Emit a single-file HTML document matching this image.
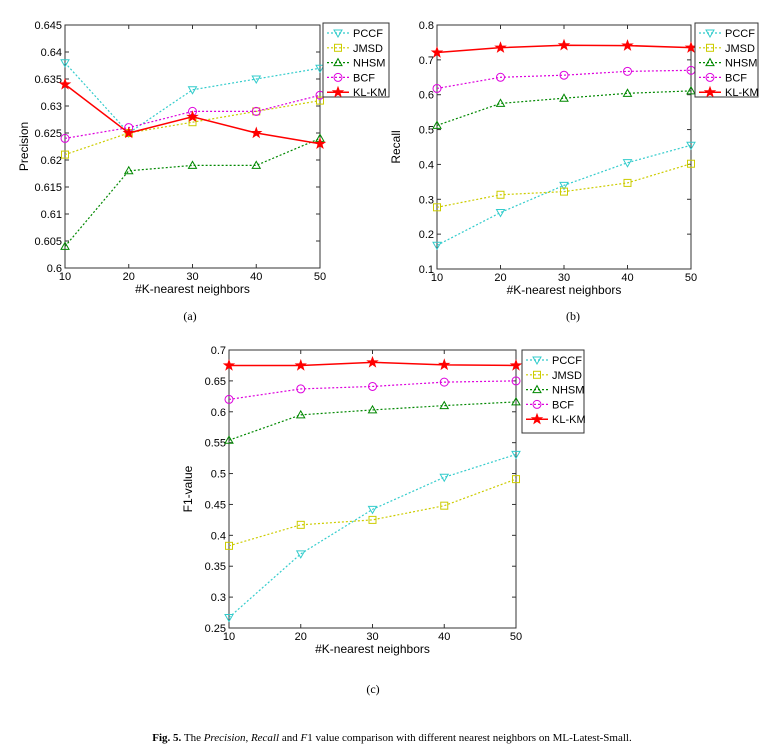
<!DOCTYPE html>
<html><head><meta charset="utf-8"><style>
body{margin:0;background:#fff;}
svg{display:block;font-family:"Liberation Sans",Arial,sans-serif;}
</style></head><body>
<svg id="s" width="784" height="752">
<text x="190" y="320" font-family="Liberation Serif" font-size="12" text-anchor="middle">(a)</text>
<text x="573" y="320" font-family="Liberation Serif" font-size="12" text-anchor="middle">(b)</text>
<text x="373" y="693" font-family="Liberation Serif" font-size="12" text-anchor="middle">(c)</text>
<text x="392" y="741" font-family="Liberation Serif" font-size="11" text-anchor="middle"><tspan font-weight="bold">Fig. 5.</tspan> The <tspan font-style="italic">Precision</tspan>, <tspan font-style="italic">Recall</tspan> and <tspan font-style="italic">F</tspan>1 value comparison with different nearest neighbors on ML-Latest-Small.</text>
</svg>
<script>
const categories=[10,20,30,40,50];
const seriesNames=["PCCF","JMSD","NHSM","BCF","KL-KM"];
const precisionPCCF=[.638,.625,.633,.635,.637];
const precisionJMSD=[.621,.625,.627,.629,.631];
const precisionNHSM=[.604,.618,.619,.619,.624];
const precisionBCF=[.624,.626,.629,.629,.632];
const precisionKLKM=[.634,.625,.628,.625,.623];
const recallPCCF=[.168,.262,.340,.405,.455];
const recallJMSD=[.277,.313,.322,.347,.402];
const recallNHSM=[.512,.575,.590,.604,.611];
const recallBCF=[.618,.650,.656,.667,.670];
const recallKLKM=[.721,.735,.742,.741,.735];
const f1PCCF=[.267,.370,.442,.494,.531];
const f1JMSD=[.383,.417,.425,.448,.491];
const f1NHSM=[.554,.595,.603,.610,.616];
const f1BCF=[.620,.637,.641,.648,.650];
const f1KLKM=[.675,.675,.680,.676,.675];
const precisionTicks=["0.6","0.605","0.61","0.615","0.62","0.625","0.63","0.635","0.64","0.645"];
const recallTicks=["0.1","0.2","0.3","0.4","0.5","0.6","0.7","0.8"];
const f1Ticks=["0.25","0.3","0.35","0.4","0.45","0.5","0.55","0.6","0.65","0.7"];

const NS="http://www.w3.org/2000/svg";
const svg=document.getElementById('s');
const colors=["#33cccc","#cccc00","#008800","#dd00dd","#ff0000"];
const dashes=["2,2","2,2","2,2","2,2",""];
function el(t,a,p){const e=document.createElementNS(NS,t);for(const k in a)e.setAttribute(k,a[k]);(p||svg).appendChild(e);return e;}
function marker(g,i,x,y,c){
  let m;
  if(i===0)m=el('polygon',{points:`${x-4},${y-3} ${x+4},${y-3} ${x},${y+4}`,fill:'none',stroke:c},g);
  else if(i===1)m=el('rect',{x:x-3.5,y:y-3.5,width:7,height:7,fill:'none',stroke:c},g);
  else if(i===2)m=el('polygon',{points:`${x-4},${y+3} ${x+4},${y+3} ${x},${y-4}`,fill:'none',stroke:c},g);
  else if(i===3)m=el('circle',{cx:x,cy:y,r:4,fill:'none',stroke:c},g);
  else{let p=[];for(let k=0;k<10;k++){const r=k%2?2:5,a=-Math.PI/2+k*Math.PI/5;p.push((x+r*Math.cos(a)).toFixed(1)+','+(y+r*Math.sin(a)).toFixed(1));}
    m=el('polygon',{points:p.join(' '),fill:c,stroke:c},g);}
  
  
}
function chart(id,L,R,T,B,ymin,ymax,ticks,ylabel,data,leg){
  const g=el('g',{});
  
  
  const xs=v=>L+(v-10)/40*(R-L);
  const ys=v=>B-(v-ymin)/(ymax-ymin)*(B-T);
  el('rect',{x:L,y:T,width:R-L,height:B-T,fill:'#fff',stroke:'#333','stroke-width':1},g);
  ticks.forEach((t,i)=>{const v=parseFloat(t),y=ys(v);
    el('line',{x1:L,x2:L+4,y1:y,y2:y,stroke:'#333'},g);el('line',{x1:R,x2:R-4,y1:y,y2:y,stroke:'#333'},g);
    const tx=el('text',{x:L-3,y:y+4,'font-size':11,'text-anchor':'end'},g);tx.textContent=t;
    });
  categories.forEach(c=>{const x=xs(c);
    el('line',{x1:x,x2:x,y1:B,y2:B-4,stroke:'#333'},g);el('line',{x1:x,x2:x,y1:T,y2:T+4,stroke:'#333'},g);
    const tx=el('text',{x:x,y:B+12,'font-size':11,'text-anchor':'middle'},g);tx.textContent=c;
    });
  const xl=el('text',{x:(L+R)/2,y:B+25,'font-size':12,'text-anchor':'middle'},g);xl.textContent='#K-nearest neighbors';
  
  const yl=el('text',{x:0,y:0,'font-size':12,'text-anchor':'middle',transform:`translate(${L-37},${(T+B)/2}) rotate(-90)`},g);yl.textContent=ylabel;
  
  data.forEach((d,i)=>{
    const pts=d.map((v,j)=>xs(categories[j])+','+ys(v)).join(' ');
    const pl=el('polyline',{points:pts,fill:'none',stroke:colors[i],'stroke-width':i===4?1.5:1.2,'stroke-dasharray':dashes[i]},g);
    
    
    d.forEach((v,j)=>marker(g,i,xs(categories[j]),ys(v),colors[i]));
  });
  const [lx,ly,lw,lh]=leg;
  const lg=el('g',{},g);
  
  
  el('rect',{x:lx,y:ly,width:lw,height:lh,fill:'#fff',stroke:'#333'},lg);
  seriesNames.forEach((n,i)=>{const y=ly+10+i*14.8;
    el('line',{x1:lx+4,x2:lx+26,y1:y,y2:y,stroke:colors[i],'stroke-width':i===4?1.5:1.2,'stroke-dasharray':dashes[i]},lg);
    marker(lg,i,lx+15,y,colors[i]);
    const t=el('text',{x:lx+30,y:y+4,'font-size':11},lg);t.textContent=n;
    });
}
chart('precision-chart',65,320,25,268,0.6,0.645,precisionTicks,'Precision',[precisionPCCF,precisionJMSD,precisionNHSM,precisionBCF,precisionKLKM],[323,23,66,74]);
chart('recall-chart',437,691,25,269,0.1,0.8,recallTicks,'Recall',[recallPCCF,recallJMSD,recallNHSM,recallBCF,recallKLKM],[695,23,63,74]);
chart('f1-chart',229,516,350,628,0.25,0.7,f1Ticks,'F1-value',[f1PCCF,f1JMSD,f1NHSM,f1BCF,f1KLKM],[522,350,62,83]);
</script>
</body></html>
